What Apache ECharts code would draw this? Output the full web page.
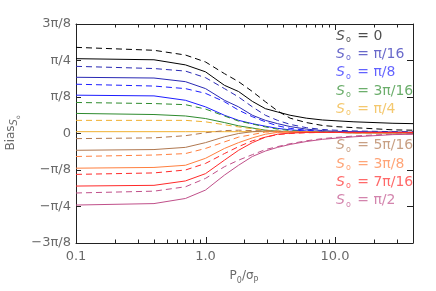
<!DOCTYPE html>
<html><head><meta charset="utf-8">
<script src="https://cdn.jsdelivr.net/npm/echarts@6/dist/echarts.min.js"></script>
<style>html,body{margin:0;padding:0;background:#fff}#c{width:436px;height:291px}</style>
</head><body><div id="c"></div>
<script>
// x: P0/sigma_P ; y values in units of pi/8
const xs = [0.1,0.4,0.7,1.0,1.4,1.8,2.3,2.9,3.6,4.5,6,8,10,14,20,28,40];
const s0Labels = ['0','π/16','π/8','3π/16','π/4','5π/16','3π/8','7π/16','π/2'];
const solid_0  = [2.05,2.02,1.88,1.69,1.32,1.15,0.88,0.68,0.59,0.50,0.42,0.37,0.35,0.32,0.30,0.28,0.27];
const dashed_0 = [2.36,2.28,2.15,1.96,1.64,1.42,1.15,0.87,0.62,0.42,0.30,0.22,0.19,0.16,0.13,0.10,0.09];
const solid_1  = [1.54,1.52,1.42,1.23,0.91,0.73,0.50,0.36,0.27,0.19,0.12,0.08,0.06,0.05,0.04,0.04,0.03];
const dashed_1 = [1.84,1.78,1.71,1.53,1.23,1.00,0.73,0.50,0.36,0.25,0.16,0.11,0.09,0.07,0.06,0.05,0.05];
const solid_2  = [1.05,1.03,0.91,0.73,0.50,0.36,0.27,0.20,0.14,0.10,0.07,0.05,0.04,0.04,0.03,0.03,0.02];
const dashed_2 = [1.35,1.30,1.23,1.10,0.87,0.64,0.46,0.32,0.21,0.14,0.09,0.06,0.05,0.04,0.03,0.03,0.03];
const solid_3  = [0.55,0.52,0.48,0.41,0.30,0.21,0.15,0.09,0.06,0.05,0.04,0.03,0.03,0.02,0.02,0.02,0.02];
const dashed_3 = [0.85,0.82,0.79,0.67,0.48,0.34,0.26,0.18,0.12,0.08,0.05,0.04,0.03,0.03,0.03,0.02,0.02];
const solid_4  = [0.05,0.05,0.05,0.05,0.05,0.05,0.05,0.05,0.05,0.04,0.04,0.03,0.03,0.03,0.02,0.02,0.02];
const dashed_4 = [0.36,0.36,0.36,0.32,0.24,0.18,0.13,0.09,0.07,0.05,0.04,0.03,0.03,0.02,0.02,0.02,0.02];
const solid_5  = [-0.46,-0.44,-0.38,-0.25,-0.09,0.00,0.05,0.07,0.06,0.05,0.04,0.03,0.03,0.02,0.02,0.02,0.02];
const dashed_5 = [-0.14,-0.12,-0.06,0.02,0.08,0.09,0.08,0.07,0.06,0.05,0.04,0.03,0.03,0.02,0.02,0.02,0.02];
const solid_6  = [-0.95,-0.93,-0.87,-0.68,-0.41,-0.25,-0.12,-0.02,0.03,0.04,0.04,0.03,0.03,0.02,0.02,0.02,0.02];
const dashed_6 = [-0.63,-0.59,-0.55,-0.41,-0.23,-0.10,-0.03,0.04,0.05,0.05,0.04,0.03,0.03,0.02,0.02,0.02,0.02];
const solid_7  = [-1.44,-1.42,-1.30,-1.10,-0.73,-0.46,-0.25,-0.10,-0.02,0.01,0.03,0.03,0.03,0.03,0.03,0.03,0.03];
const dashed_7 = [-1.12,-1.08,-1.00,-0.82,-0.55,-0.36,-0.20,-0.10,-0.03,0.00,0.02,0.03,0.03,0.03,0.03,0.03,0.03];
const solid_8  = [-1.96,-1.92,-1.78,-1.55,-1.14,-0.87,-0.63,-0.48,-0.38,-0.30,-0.22,-0.16,-0.13,-0.09,-0.06,-0.03,-0.02];
const dashed_8 = [-1.63,-1.58,-1.46,-1.23,-0.91,-0.73,-0.58,-0.44,-0.36,-0.28,-0.20,-0.14,-0.11,-0.07,-0.04,-0.02,-0.01];
const yTickValues = [-3,-2,-1,0,1,2,3];
const yTickLabels = ['−3π/8','−π/4','−π/8','0','π/8','π/4','3π/8'];
const xMajorTicks = [0.1,1,10];
const xMinorTicks = [0.2,0.3,0.4,0.5,0.6,0.7,0.8,0.9,2,3,4,5,6,7,8,9,20,30];

const colors = ['#000000','#2a2ab4','#1e1eff','#2e8b2e','#f0b030','#b07850','#ff7f3f','#ff2a2a','#c0508a'];
const solids = [solid_0,solid_1,solid_2,solid_3,solid_4,solid_5,solid_6,solid_7,solid_8];
const dashes = [dashed_0,dashed_1,dashed_2,dashed_3,dashed_4,dashed_5,dashed_6,dashed_7,dashed_8];

const FONT = 'DejaVu Sans';
const series = [];
s0Labels.forEach((lab, i) => {
  series.push({name:'S0 = '+lab, type:'line', symbol:'none', silent:true,
    data: xs.map((x,k)=>[x, solids[i][k]]), lineStyle:{color:colors[i], width:1}});
  series.push({name:'S0 = '+lab+' (dashed)', type:'line', symbol:'none', silent:true,
    data: xs.map((x,k)=>[x, dashes[i][k]]), lineStyle:{color:colors[i], width:1, type:[6,4]}});
});
function tickSeries(vals, len){
  return {type:'custom', silent:true, z:10, clip:false,
    data: vals.map(v=>[v,0]),
    renderItem:(params, api)=>{
      const x = Math.round(api.coord([api.value(0), 0])[0]) + 0.5;
      const cs = params.coordSys;
      const yb = cs.y + cs.height, yt = cs.y;
      return {type:'group', children:[
        {type:'line', shape:{x1:x,y1:yb,x2:x,y2:yb-len}, style:{stroke:'#222', lineWidth:1}},
        {type:'line', shape:{x1:x,y1:yt,x2:x,y2:yt+len}, style:{stroke:'#222', lineWidth:1}}
      ]};
    }};
}
series.push(tickSeries(xMajorTicks, 6));
series.push(tickSeries(xMinorTicks, 3.5));

const axisLine = {show:true, onZero:false, lineStyle:{color:'#222', width:1}};
const legendRows = [0,1,2,3,4,6,7,8,9];
const graphic = s0Labels.map((lab,i)=>({
  type:'text', left:336, top: 29 + legendRows[i]*18.3,
  style:{text:'{s|S}{o|o}{t| = '+lab+'}', fill:colors[i], opacity:0.7,
    rich:{s:{fontFamily:FONT, fontStyle:'italic', fontSize:14, verticalAlign:'top'},
          o:{fontFamily:FONT, fontSize:8, padding:[7,2,0,1], verticalAlign:'top'},
          t:{fontFamily:FONT, fontSize:14, verticalAlign:'top'}}}
}));
graphic.push({type:'text', x:13, y:133, rotation:Math.PI/2,
  style:{text:'{m|Bias}{s|S}{o|o}', fill:'#6a6a6a', align:'center', verticalAlign:'middle',
    rich:{m:{fontFamily:FONT, fontSize:12, verticalAlign:'top'},
          s:{fontFamily:FONT, fontSize:10, fontStyle:'italic', padding:[5,0,0,0], verticalAlign:'top'},
          o:{fontFamily:FONT, fontSize:6, padding:[11,0,0,0], verticalAlign:'top'}}}});
graphic.push({type:'text', x:244, y:277,
  style:{text:'{m|P}{a|0}{m|/σ}{a|P}', fill:'#6a6a6a', align:'center', verticalAlign:'middle',
    rich:{m:{fontFamily:FONT, fontSize:12, verticalAlign:'top'},
          a:{fontFamily:FONT, fontSize:8, padding:[7,0,0,0], verticalAlign:'top'}}}});

const chart = echarts.init(document.getElementById('c'), null, {renderer:'canvas'});
chart.setOption({
  animation:false,
  backgroundColor:'#fff',
  grid:{left:76, right:23, top:24, bottom:48},
  xAxis:[
    {type:'log', logBase:10, min:0.1, max:40, position:'bottom', axisLine,
     axisTick:{show:false}, minorTick:{show:false}, splitLine:{show:false},
     axisLabel:{formatter:v=>Number(v).toFixed(1), showMaxLabel:false, color:'#6a6a6a', fontSize:13, fontFamily:FONT, margin:7}},
    {type:'log', logBase:10, min:0.1, max:40, position:'top', axisLine,
     axisTick:{show:false}, minorTick:{show:false}, splitLine:{show:false}, axisLabel:{show:false}}
  ],
  yAxis:[
    {type:'value', min:-3, max:3, interval:1, position:'left', axisLine,
     axisTick:{show:true, inside:true, length:5, lineStyle:{color:'#222'}}, splitLine:{show:false},
     axisLabel:{formatter:v=>yTickLabels[yTickValues.indexOf(Math.round(v))], color:'#6a6a6a', fontSize:13, fontFamily:FONT, margin:5}},
    {type:'value', min:-3, max:3, interval:1, position:'right', axisLine,
     axisTick:{show:true, inside:true, length:6, lineStyle:{color:'#222'}}, splitLine:{show:false}, axisLabel:{show:false}}
  ],
  series,
  graphic
});
</script></body></html>
